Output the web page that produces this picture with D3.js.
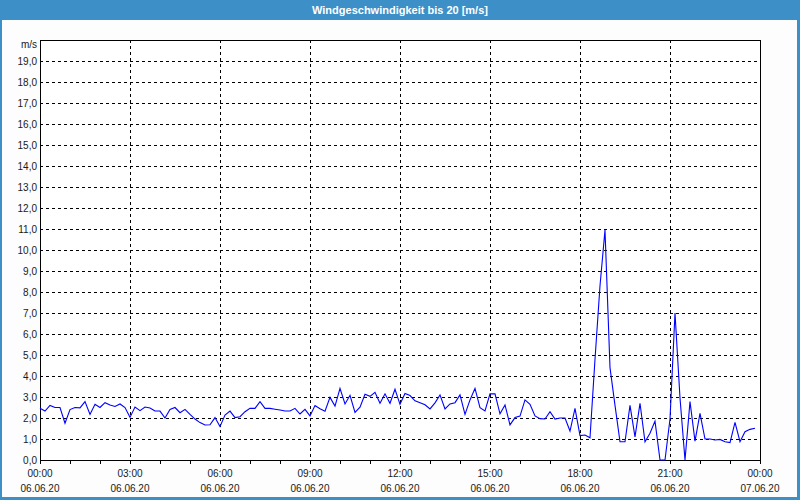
<!DOCTYPE html>
<html>
<head>
<meta charset="utf-8">
<script src="https://cdn.jsdelivr.net/npm/d3@7/dist/d3.min.js"></script>
<style>
html,body{margin:0;padding:0;background:#fff;}
svg{display:block;}
</style>
</head>
<body>
<svg id="chart" width="800" height="500"></svg>
<script>
// ---- data ----
const title = "Windgeschwindigkeit bis 20 [m/s]";
const unitLabel = "m/s";
const stepMinutes = 10;
const speeds = [
  2.46,2.33,2.6,2.5,2.5,1.75,2.4,2.5,2.48,2.78,
  2.17,2.65,2.5,2.73,2.62,2.55,2.67,2.5,2.03,2.52,
  2.35,2.52,2.48,2.33,2.33,2.0,2.41,2.5,2.25,2.41,
  2.17,1.95,1.78,1.67,1.68,2.02,1.59,2.14,2.33,2.02,
  2.06,2.3,2.46,2.46,2.78,2.46,2.46,2.42,2.38,2.33,
  2.33,2.46,2.19,2.41,2.1,2.59,2.44,2.32,2.98,2.57,
  3.41,2.67,3.08,2.27,2.52,3.13,3.03,3.22,2.7,3.15,
  2.7,3.37,2.65,3.17,3.07,2.82,2.73,2.63,2.43,2.72,
  3.1,2.43,2.67,2.73,3.1,2.17,2.86,3.41,2.49,2.34,
  3.15,3.15,2.2,2.62,1.67,2.02,2.09,2.86,2.65,2.1,
  1.97,1.95,2.3,1.95,2.0,2.0,1.38,2.46,1.16,1.19,
  1.06,4.8,8.3,10.95,4.4,2.6,0.87,0.87,2.6,1.1,
  2.7,0.87,1.27,1.85,0,0,1.95,7.0,2.95,0,
  2.78,0.9,2.22,1.0,1.0,0.95,0.98,0.87,0.83,1.79,
  0.87,1.35,1.46,1.51
];
const yTicks = [0,1,2,3,4,5,6,7,8,9,10,11,12,13,14,15,16,17,18,19];
const xTickHours = [0,3,6,9,12,15,18,21,24];
const xTimeLabels = ["00:00","03:00","06:00","09:00","12:00","15:00","18:00","21:00","00:00"];
const xDateLabels = ["06.06.20","06.06.20","06.06.20","06.06.20","06.06.20","06.06.20","06.06.20","06.06.20","07.06.20"];
const minorTickHours = d3.range(0, 25, 1);

// ---- layout ----
const W = 800, H = 500;
const plot = {left: 40, top: 40, right: 760, bottom: 460};
const blue = "#3c8fc7";
const font = "'Liberation Sans', Arial, sans-serif";

const svg = d3.select("#chart");

// window frame
svg.append("rect").attr("x",0).attr("y",0).attr("width",W).attr("height",H).attr("fill",blue);
svg.append("rect").attr("x",2).attr("y",20).attr("width",W-5).attr("height",H-23).attr("fill","#fcfdfc");
svg.append("text").attr("x",W/2).attr("y",14).attr("text-anchor","middle")
  .attr("font-family",font).attr("font-size","11px").attr("font-weight","bold")
  .attr("fill","#ffffff").text(title);

const x = d3.scaleLinear().domain([0,24]).range([plot.left, plot.right]);
const y = d3.scaleLinear().domain([0,20]).range([plot.bottom, plot.top]);

svg.append("rect").attr("x",plot.left).attr("y",plot.top)
  .attr("width",plot.right-plot.left).attr("height",plot.bottom-plot.top).attr("fill","#ffffff");

// horizontal grid
const g = svg.append("g").attr("shape-rendering","crispEdges");
g.selectAll("line.hg").data(yTicks.filter(v => v > 0)).enter().append("line")
  .attr("x1",plot.left).attr("x2",plot.right)
  .attr("y1",d => Math.round(y(d))+0.5).attr("y2",d => Math.round(y(d))+0.5)
  .attr("stroke","#000").attr("stroke-dasharray","3,3");
// vertical grid
g.selectAll("line.vg").data(xTickHours.filter(h => h > 0 && h < 24)).enter().append("line")
  .attr("x1",d => Math.round(x(d))+0.5).attr("x2",d => Math.round(x(d))+0.5)
  .attr("y1",plot.top).attr("y2",plot.bottom)
  .attr("stroke","#000").attr("stroke-dasharray","3,3");

// minor ticks
g.selectAll("line.mt").data(minorTickHours).enter().append("line")
  .attr("x1",d => Math.round(x(d))+0.5).attr("x2",d => Math.round(x(d))+0.5)
  .attr("y1",plot.bottom).attr("y2",plot.bottom+4)
  .attr("stroke","#000");

// data line
const line = d3.line()
  .x((d,i) => x(i*stepMinutes/60))
  .y(d => y(d));
svg.append("path").datum(speeds).attr("d",line)
  .attr("fill","none").attr("stroke","#0000ff").attr("stroke-width",1.1);

// plot border
g.append("rect").attr("x",plot.left+0.5).attr("y",plot.top+0.5)
  .attr("width",plot.right-plot.left).attr("height",plot.bottom-plot.top)
  .attr("fill","none").attr("stroke","#000");

// y labels
const fmt = v => v.toFixed(1).replace(".", ",");
svg.append("g").selectAll("text").data(yTicks).enter().append("text")
  .attr("x",37).attr("y",d => y(d)+3.5).attr("text-anchor","end")
  .attr("font-family",font).attr("font-size","10px").attr("fill","#1a1a1a")
  .text(fmt);
svg.append("text").attr("x",37).attr("y",48).attr("text-anchor","end")
  .attr("font-family",font).attr("font-size","10px").attr("fill","#1a1a1a").text(unitLabel);

// x labels
const xl = svg.append("g");
xl.selectAll("text.t").data(xTickHours).enter().append("text")
  .attr("x",d => x(d)).attr("y",477).attr("text-anchor","middle")
  .attr("font-family",font).attr("font-size","10px").attr("fill","#1a1a1a")
  .text((d,i) => xTimeLabels[i]);
xl.selectAll("text.d").data(xTickHours).enter().append("text")
  .attr("x",d => x(d)).attr("y",492).attr("text-anchor","middle")
  .attr("font-family",font).attr("font-size","10px").attr("fill","#1a1a1a")
  .text((d,i) => xDateLabels[i]);
</script>
</body>
</html>
